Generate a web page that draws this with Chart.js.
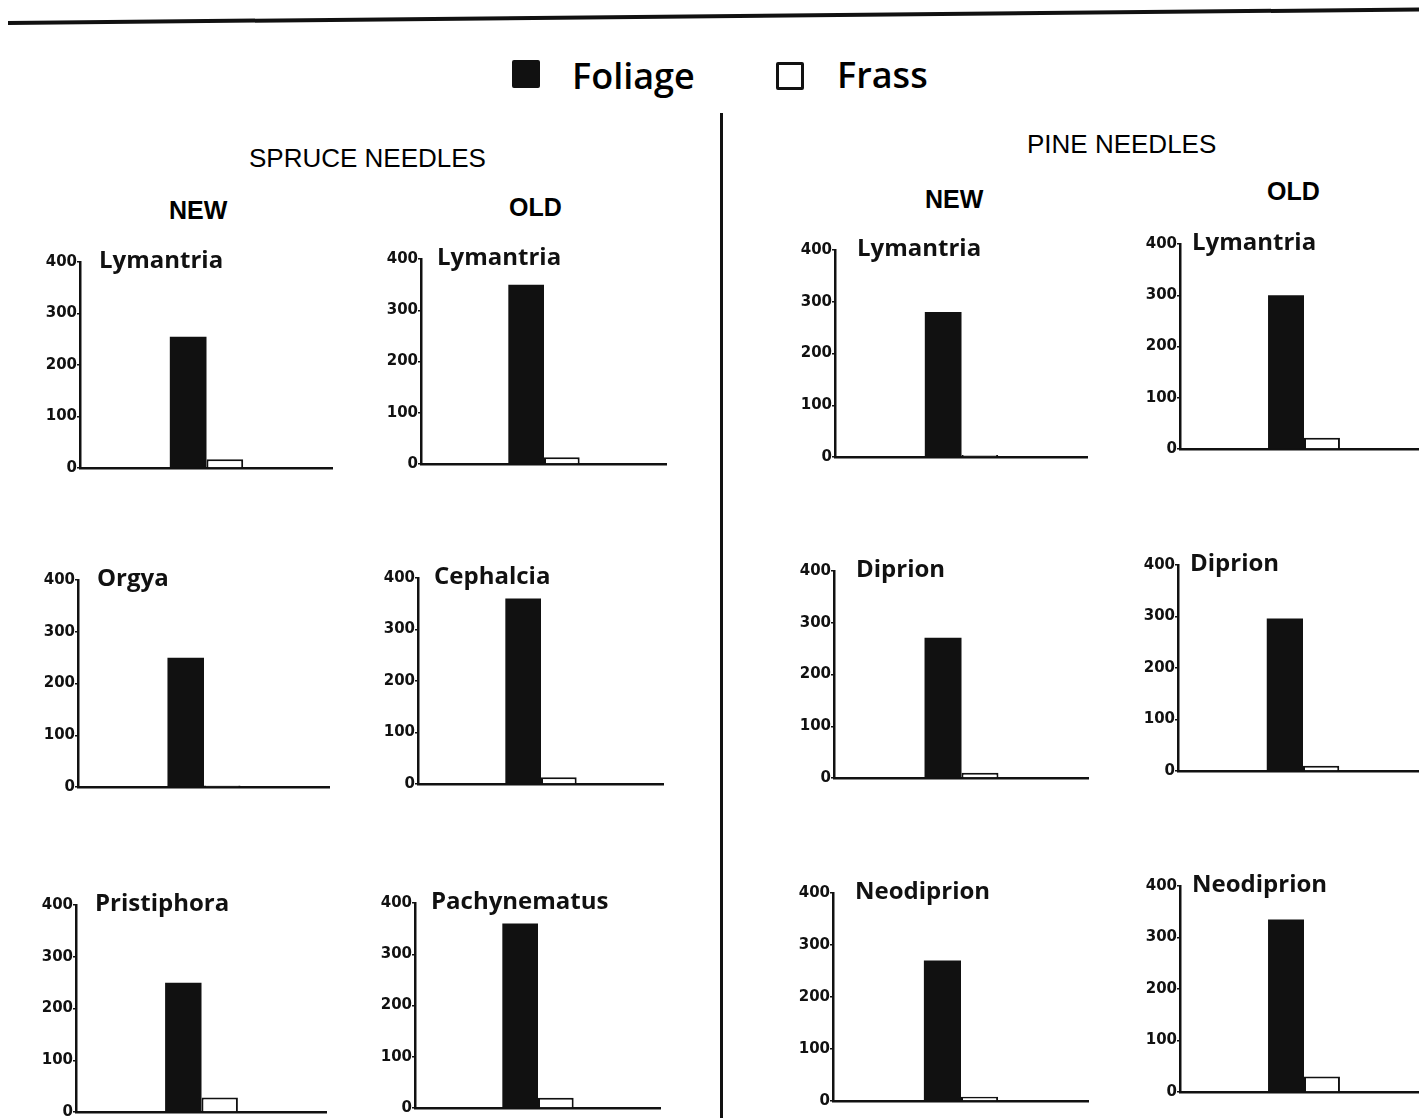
<!DOCTYPE html>
<html>
<head>
<meta charset="utf-8">
<script src="https://cdn.jsdelivr.net/npm/chart.js@4.4.1/dist/chart.umd.min.js"></script>
<style>
  html, body { margin: 0; padding: 0; background: #fff; }
  body { width: 1419px; height: 1120px; position: relative; overflow: hidden; font-family: "Liberation Sans", Arial, sans-serif; color: #000; }
  .rule { position: absolute; left: 8px; top: 21px; width: 1420px; height: 4px; background: #111; transform-origin: 0 50%; transform: rotate(-0.55deg); }
  .divider { position: absolute; left: 720px; top: 113px; width: 3px; height: 1005px; background: #111; }
  .txt { position: absolute; white-space: nowrap; line-height: 1; transform: translateY(-50%); }
  .legend-box { position: absolute; width: 28px; height: 28px; box-sizing: border-box; border: 3px solid #111; border-radius: 2px; }
  .legend-txt { font-family: "Open Sans", sans-serif; font-size: 36px; font-weight: 600; }
  .group { font-size: 26px; }
  .age { font-size: 25px; font-weight: bold; }
  canvas.panel { position: absolute; }
</style>
</head>
<body>
<div class="rule"></div>
<div class="divider"></div>

<div class="legend-box" style="left:512px; top:60px; background:#111;"></div>
<div class="txt legend-txt" style="left:572px; top:76px;">Foliage</div>
<div class="legend-box" style="left:776px; top:62px; background:#fff;"></div>
<div class="txt legend-txt" style="left:837px; top:75px;">Frass</div>

<div class="txt group" style="left:249px; top:158px;">SPRUCE NEEDLES</div>
<div class="txt age" style="left:169px; top:210px;">NEW</div>
<div class="txt age" style="left:509px; top:207px;">OLD</div>
<div class="txt group" style="left:1027px; top:144px;">PINE NEEDLES</div>
<div class="txt age" style="left:925px; top:199px;">NEW</div>
<div class="txt age" style="left:1267px; top:191px;">OLD</div>

<script>
// Insects fed on each needle type
const spruceNewInsects = ['Lymantria', 'Orgya', 'Pristiphora'];
const spruceOldInsects = ['Lymantria', 'Cephalcia', 'Pachynematus'];
const pineNewInsects   = ['Lymantria', 'Diprion', 'Neodiprion'];
const pineOldInsects   = ['Lymantria', 'Diprion', 'Neodiprion'];

// Foliage consumed and frass produced (same units, axis 0-400)
const spruceNewFoliage = [255, 250, 250];
const spruceNewFrass   = [17, 3, 28];
const spruceOldFoliage = [350, 360, 360];
const spruceOldFrass   = [13, 13, 20];
const pineNewFoliage   = [280, 271, 270];
const pineNewFrass     = [4, 10, 8];
const pineOldFoliage   = [300, 296, 335];
const pineOldFrass     = [22, 10, 30];

const seriesNames = ['Foliage', 'Frass'];
const yTicks = [0, 100, 200, 300, 400];

// Placement of each small plot on the page: y-axis x, top (400) y, baseline (0) y, axis end x
const spruceNewBoxes = [
  { x: 80, top: 262, base: 468, right: 333 },
  { x: 78, top: 580, base: 787, right: 330 },
  { x: 76, top: 905, base: 1112, right: 327 }
];
const spruceOldBoxes = [
  { x: 421, top: 259, base: 464, right: 667 },
  { x: 418, top: 578, base: 784, right: 664 },
  { x: 415, top: 903, base: 1108, right: 661 }
];
const pineNewBoxes = [
  { x: 835, top: 250, base: 457, right: 1088 },
  { x: 834, top: 571, base: 778, right: 1089 },
  { x: 833, top: 893, base: 1101, right: 1089 }
];
const pineOldBoxes = [
  { x: 1180, top: 244, base: 449, right: 1428 },
  { x: 1178, top: 565, base: 771, right: 1428 },
  { x: 1180, top: 886, base: 1092, right: 1428 }
];

const Y_AXIS_W = 46;
const PAD_T = 12;
const PAD_B = 12;

// Insect name written beside the top of the y axis
const panelTitlePlugin = {
  id: 'panelTitle',
  afterDraw(chart, args, opts) {
    const { ctx, chartArea } = chart;
    ctx.save();
    ctx.font = 'bold 24px "Open Sans", sans-serif';
    ctx.fillStyle = '#111';
    ctx.textAlign = 'left';
    ctx.textBaseline = 'middle';
    ctx.fillText(opts.text, chartArea.left + opts.dx, chartArea.top - 1);
    ctx.restore();
  }
};

function makePanel(box, name, foliage, frass, titleDx) {
  const canvas = document.createElement('canvas');
  canvas.className = 'panel';
  const w = (box.right - box.x) + Y_AXIS_W;
  const h = (box.base - box.top) + PAD_T + PAD_B;
  canvas.width = w;
  canvas.height = h;
  canvas.style.left = (box.x - Y_AXIS_W) + 'px';
  canvas.style.top = (box.top - PAD_T) + 'px';
  canvas.style.width = w + 'px';
  canvas.style.height = h + 'px';
  document.body.appendChild(canvas);

  new Chart(canvas, {
    type: 'bar',
    data: {
      labels: [name],
      datasets: [
        { label: seriesNames[0], data: [foliage], backgroundColor: '#111', borderColor: '#111', borderWidth: 0 },
        { label: seriesNames[1], data: [frass], backgroundColor: '#fff', borderColor: '#111', borderWidth: 2 }
      ]
    },
    options: {
      responsive: false,
      animation: false,
      devicePixelRatio: 1,
      layout: { padding: { top: PAD_T, bottom: PAD_B, left: 0, right: 0 } },
      datasets: { bar: { categoryPercentage: 0.29, barPercentage: 1.0 } },
      plugins: {
        legend: { display: false },
        tooltip: { enabled: false },
        panelTitle: { text: name, dx: titleDx }
      },
      scales: {
        x: {
          grid: { display: false },
          border: { display: true, color: '#111', width: 2.5 },
          ticks: { display: false },
          afterFit(scale) { scale.height = 0; }
        },
        y: {
          min: 0,
          max: 400,
          afterBuildTicks(scale) { scale.ticks = yTicks.map(v => ({ value: v })); },
          grid: { display: true, drawOnChartArea: false, tickLength: 3, color: '#111', lineWidth: 1.5 },
          border: { display: true, color: '#111', width: 2.5 },
          ticks: {
            padding: 0,
            color: '#111',
            font: { family: '"DejaVu Sans", sans-serif', size: 15, weight: 'bold' }
          },
          afterFit(scale) { scale.width = Y_AXIS_W; }
        }
      }
    },
    plugins: [panelTitlePlugin]
  });
}

spruceNewBoxes.forEach((b, i) => makePanel(b, spruceNewInsects[i], spruceNewFoliage[i], spruceNewFrass[i], 19));
spruceOldBoxes.forEach((b, i) => makePanel(b, spruceOldInsects[i], spruceOldFoliage[i], spruceOldFrass[i], 16));
pineNewBoxes.forEach((b, i) => makePanel(b, pineNewInsects[i], pineNewFoliage[i], pineNewFrass[i], 22));
pineOldBoxes.forEach((b, i) => makePanel(b, pineOldInsects[i], pineOldFoliage[i], pineOldFrass[i], 12));
</script>
</body>
</html>
